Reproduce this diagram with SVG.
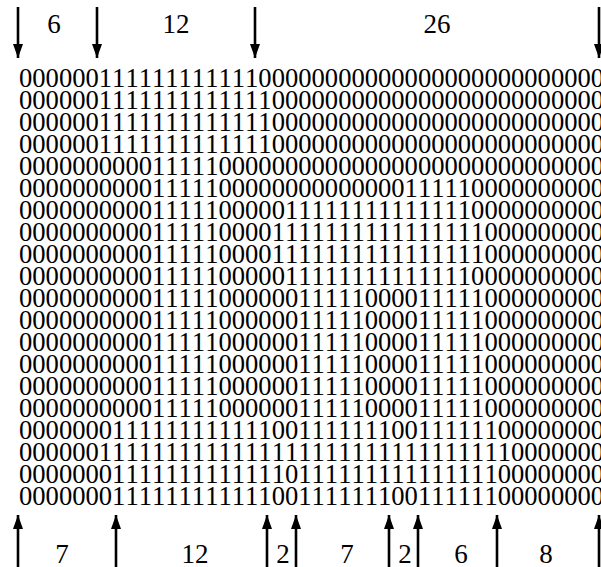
<svg xmlns="http://www.w3.org/2000/svg" width="601" height="567" viewBox="0 0 601 567">
<style>
.r{font-family:"Liberation Serif","DejaVu Serif",serif;font-size:26.6px;fill:#000;font-kerning:none;font-feature-settings:"kern" 0}
.l{font-family:"Liberation Serif","DejaVu Serif",serif;font-size:27px;fill:#000;text-anchor:middle;font-kerning:none}
.a{stroke:#000;stroke-width:2.6;fill:none}
</style>
<defs>
<marker id="ah" viewBox="0 0 14 10" refX="14" refY="5" markerWidth="14" markerHeight="10" markerUnits="userSpaceOnUse" orient="auto">
<path d="M0,0 L14,5 L0,10 Z" fill="#000"/>
</marker>
</defs>
<g id="bits">
<text class="r" x="19" y="87">00000011111111111100000000000000000000000000</text>
<text class="r" x="19" y="109">00000011111111111110000000000000000000000000</text>
<text class="r" x="19" y="131">00000011111111111110000000000000000000000000</text>
<text class="r" x="19" y="153">00000011111111111110000000000000000000000000</text>
<text class="r" x="19" y="175">00000000001111100000000000000000000000000000</text>
<text class="r" x="19" y="197">00000000001111100000000000000111110000000000</text>
<text class="r" x="19" y="219">00000000001111100000111111111111110000000000</text>
<text class="r" x="19" y="241">00000000001111100001111111111111111000000000</text>
<text class="r" x="19" y="263">00000000001111100001111111111111111000000000</text>
<text class="r" x="19" y="285">00000000001111100000111111111111110000000000</text>
<text class="r" x="19" y="307">00000000001111100000011111000011111000000000</text>
<text class="r" x="19" y="329">00000000001111100000011111000011111000000000</text>
<text class="r" x="19" y="351">00000000001111100000011111000011111000000000</text>
<text class="r" x="19" y="373">00000000001111100000011111000011111000000000</text>
<text class="r" x="19" y="395">00000000001111100000011111000011111000000000</text>
<text class="r" x="19" y="417">00000000001111100000011111000011111000000000</text>
<text class="r" x="19" y="439">00000001111111111110011111110011111100000000</text>
<text class="r" x="19" y="461">00000011111111111111111111111111111110000000</text>
<text class="r" x="19" y="483">00000001111111111111011111111111111100000000</text>
<text class="r" x="19" y="505">00000001111111111110011111110011111100000000</text>
</g>
<g id="connectors">
<line class="a" x1="18" y1="7" x2="18" y2="58" marker-end="url(#ah)"/>
<line class="a" x1="97" y1="7" x2="97" y2="58" marker-end="url(#ah)"/>
<line class="a" x1="255" y1="7" x2="255" y2="58" marker-end="url(#ah)"/>
<line class="a" x1="599" y1="7" x2="599" y2="58" marker-end="url(#ah)"/>
<line class="a" x1="18" y1="567" x2="18" y2="515" marker-end="url(#ah)"/>
<line class="a" x1="116" y1="567" x2="116" y2="515" marker-end="url(#ah)"/>
<line class="a" x1="267" y1="567" x2="267" y2="515" marker-end="url(#ah)"/>
<line class="a" x1="296" y1="567" x2="296" y2="515" marker-end="url(#ah)"/>
<line class="a" x1="389" y1="567" x2="389" y2="515" marker-end="url(#ah)"/>
<line class="a" x1="418" y1="567" x2="418" y2="515" marker-end="url(#ah)"/>
<line class="a" x1="497" y1="567" x2="497" y2="515" marker-end="url(#ah)"/>
<line class="a" x1="599" y1="567" x2="599" y2="515" marker-end="url(#ah)"/>
</g>
<g id="labels">
<text class="l" x="54" y="33">6</text>
<text class="l" x="176" y="33">12</text>
<text class="l" x="437" y="33">26</text>
<text class="l" x="62" y="563">7</text>
<text class="l" x="195" y="563">12</text>
<text class="l" x="283" y="563">2</text>
<text class="l" x="347" y="563">7</text>
<text class="l" x="405" y="563">2</text>
<text class="l" x="461" y="563">6</text>
<text class="l" x="546" y="563">8</text>
</g>
</svg>
